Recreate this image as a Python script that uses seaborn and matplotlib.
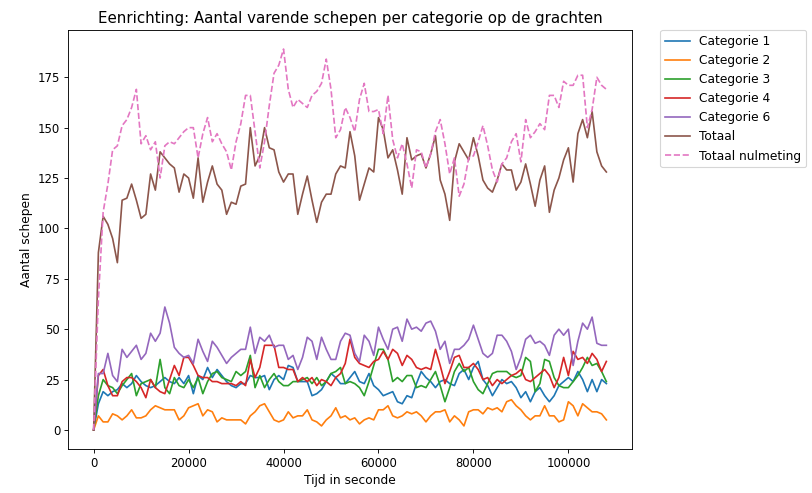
import matplotlib
matplotlib.use("Agg")
import matplotlib.pyplot as plt
import seaborn as sns
import pandas as pd

# time axis (seconds), one sample every 1000 s
tijd = list(range(0, 109000, 1000))

categorie_1 = [0, 13, 19, 17, 19, 20, 23, 21, 23, 27, 24, 22, 21, 22, 24, 26, 24, 23, 26, 23,
               27, 18, 27, 25, 31, 26, 30, 27, 24, 22, 21, 23, 23, 27, 26, 26, 27, 20, 25, 27,
               25, 32, 31, 24, 24, 24, 17, 18, 20, 24, 28, 26, 23, 23, 26, 29, 24, 23, 28, 22,
               20, 17, 18, 19, 14, 13, 17, 16, 23, 29, 26, 24, 21, 24, 25, 23, 22, 28, 30, 25,
               31, 34, 25, 22, 17, 21, 25, 23, 24, 21, 16, 19, 14, 19, 21, 17, 14, 17, 22, 24,
               26, 24, 29, 25, 19, 25, 19, 25, 23]
categorie_2 = [0, 7, 4, 4, 8, 7, 5, 7, 10, 6, 6, 7, 10, 12, 11, 10, 10, 10, 5, 7,
               11, 12, 13, 7, 10, 9, 4, 6, 5, 5, 5, 5, 3, 7, 9, 12, 13, 9, 5, 4,
               5, 9, 6, 7, 7, 10, 5, 4, 2, 5, 7, 11, 6, 7, 5, 6, 3, 5, 6, 5,
               10, 10, 12, 7, 6, 7, 9, 8, 9, 7, 4, 7, 9, 9, 10, 4, 7, 5, 2, 9,
               10, 10, 8, 11, 10, 11, 9, 14, 15, 12, 10, 7, 5, 7, 7, 12, 7, 7, 4, 5,
               14, 12, 7, 13, 11, 9, 9, 8, 5]
categorie_3 = [0, 17, 25, 22, 21, 18, 22, 25, 28, 17, 23, 24, 25, 21, 35, 21, 18, 26, 22, 21,
               25, 21, 26, 18, 24, 28, 29, 26, 25, 24, 29, 27, 29, 37, 21, 27, 21, 25, 28, 24,
               22, 22, 24, 24, 25, 26, 23, 26, 22, 24, 28, 29, 31, 23, 24, 23, 21, 17, 24, 32,
               40, 40, 35, 24, 26, 24, 27, 27, 21, 22, 21, 25, 29, 22, 14, 21, 29, 33, 29, 31,
               24, 20, 18, 23, 28, 29, 29, 29, 27, 26, 27, 36, 34, 19, 23, 35, 34, 26, 22, 21,
               21, 24, 27, 31, 36, 32, 33, 29, 24]
categorie_4 = [0, 27, 30, 22, 17, 17, 24, 26, 26, 24, 21, 16, 25, 21, 19, 18, 25, 32, 27, 36,
               36, 32, 27, 26, 26, 24, 24, 23, 23, 23, 22, 24, 22, 35, 26, 31, 42, 42, 42, 31,
               31, 30, 30, 24, 26, 24, 26, 22, 25, 24, 22, 26, 28, 33, 45, 36, 33, 32, 31, 34,
               35, 39, 35, 40, 38, 32, 37, 35, 31, 30, 31, 30, 40, 32, 23, 29, 36, 37, 31, 31,
               33, 30, 25, 26, 22, 25, 23, 25, 27, 28, 30, 25, 24, 26, 28, 30, 27, 21, 26, 36,
               27, 39, 35, 36, 33, 38, 35, 29, 34]
categorie_6 = [0, 28, 28, 38, 27, 24, 40, 36, 39, 42, 35, 38, 48, 44, 48, 61, 53, 41, 38, 36,
               37, 33, 45, 39, 34, 44, 41, 37, 33, 36, 38, 40, 40, 51, 38, 46, 44, 47, 41, 42,
               42, 35, 37, 30, 36, 46, 44, 35, 46, 40, 35, 35, 44, 48, 47, 38, 34, 47, 44, 37,
               51, 45, 40, 50, 51, 44, 55, 50, 51, 49, 53, 54, 49, 40, 44, 33, 40, 40, 42, 45,
               52, 45, 38, 36, 38, 47, 47, 44, 39, 30, 36, 45, 47, 43, 44, 42, 37, 47, 50, 47,
               50, 32, 44, 53, 50, 56, 43, 42, 42]
totaal = [0, 88, 106, 102, 95, 83, 114, 115, 122, 114, 105, 107, 127, 119, 138, 135, 132, 130, 118, 127,
          125, 115, 135, 113, 123, 131, 122, 119, 107, 113, 112, 121, 122, 150, 131, 136, 150, 140, 139, 128,
          123, 127, 127, 107, 117, 126, 114, 103, 113, 117, 117, 127, 131, 130, 148, 136, 114, 122, 130, 128,
          155, 149, 135, 139, 129, 117, 145, 134, 136, 137, 130, 137, 146, 124, 117, 104, 133, 142, 138, 134,
          145, 136, 124, 120, 118, 124, 132, 129, 129, 119, 123, 132, 122, 111, 124, 131, 108, 119, 125, 134,
          140, 123, 147, 154, 145, 158, 138, 131, 128]
totaal_nulmeting = [0, 65, 108, 122, 139, 141, 151, 154, 160, 169, 142, 146, 139, 143, 125, 141, 143, 142, 145, 148,
                    150, 150, 135, 147, 155, 143, 147, 142, 138, 129, 143, 152, 166, 166, 148, 130, 143, 161, 177, 181,
                    189, 169, 160, 164, 162, 160, 166, 168, 172, 184, 169, 145, 149, 160, 155, 148, 164, 172, 158, 158,
                    159, 147, 166, 144, 135, 142, 132, 120, 139, 138, 130, 137, 148, 154, 142, 127, 135, 116, 122, 135,
                    136, 143, 151, 141, 129, 123, 132, 135, 143, 147, 133, 154, 145, 148, 152, 149, 166, 166, 160, 173,
                    171, 171, 176, 176, 150, 159, 175, 171, 169]

labels = ["Categorie 1", "Categorie 2", "Categorie 3", "Categorie 4", "Categorie 6", "Totaal", "Totaal nulmeting"]
series = [categorie_1, categorie_2, categorie_3, categorie_4, categorie_6, totaal, totaal_nulmeting]
colors = ["#1f77b4", "#ff7f0e", "#2ca02c", "#d62728", "#9467bd", "#8c564b", "#e377c2"]
styles = ["-", "-", "-", "-", "-", "-", "--"]

fig = plt.figure(figsize=(812 / 80, 493 / 80), dpi=80)
ax = fig.add_axes([68 / 812, 1 - 449 / 493, (632 - 68) / 812, (449 - 30) / 493])

for lab, vals, col, ls in zip(labels, series, colors, styles):
    df = pd.DataFrame({"Tijd": tijd, "Aantal": vals})
    sns.lineplot(data=df, x="Tijd", y="Aantal", ax=ax, color=col, linestyle=ls,
                 label=lab, linewidth=1.5)

ax.set_title("Eenrichting: Aantal varende schepen per categorie op de grachten", fontsize=13.5)
ax.set_xlabel("Tijd in seconde", fontsize=11)
ax.set_ylabel("Aantal schepen", fontsize=11)
ax.set_yticks([0, 25, 50, 75, 100, 125, 150, 175])
ax.set_xticks([0, 20000, 40000, 60000, 80000, 100000])
ax.set_xticklabels(["0", "20000", "40000", "60000", "80000", "100000"])
ax.tick_params(labelsize=10.5)
ax.legend(bbox_to_anchor=(1.05, 1), loc="upper left", borderaxespad=0.0, fontsize=11)

fig.savefig("out.png", dpi=80)
